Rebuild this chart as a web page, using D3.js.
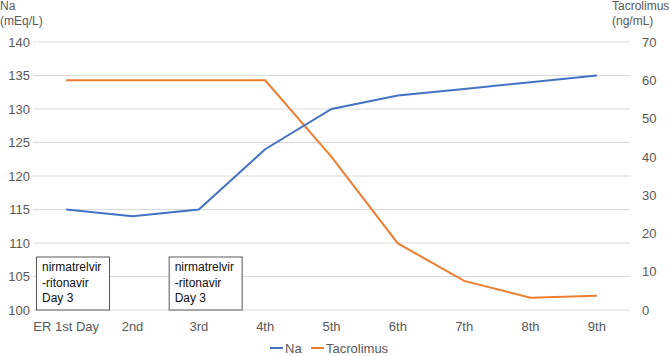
<!DOCTYPE html>
<html>
<head>
<meta charset="utf-8">
<script src="https://cdn.jsdelivr.net/npm/d3@7"></script>
<style>
  body { margin: 0; background: #fff; }
  text { font-family: "Liberation Sans", Arial, sans-serif; }
</style>
</head>
<body>
<div id="chart"></div>
<script>
// Chart data
const days = ["ER 1st Day", "2nd", "3rd", "4th", "5th", "6th", "7th", "8th", "9th"];
const naValues = [115, 114, 115, 124, 130, 132, 133, 134, 135];
const tacValues = [60, 60, 60, 60, 40, 17.4, 7.6, 3.2, 3.7];
const naTicks = [100, 105, 110, 115, 120, 125, 130, 135, 140];
const tacTicks = [0, 10, 20, 30, 40, 50, 60, 70];
const notes = [
  { day: "ER 1st Day", lines: ["nirmatrelvir", "-ritonavir", "Day 3"] },
  { day: "3rd", lines: ["nirmatrelvir", "-ritonavir", "Day 3"] }
];

const W = 669, H = 356;
const margin = { top: 42, right: 39, bottom: 46, left: 33 };
const width = W - margin.left - margin.right,
  height = H - margin.top - margin.bottom;

const svg = d3.select("#chart").append("svg")
  .attr("width", W).attr("height", H);

const g = svg.append("g")
  .attr("transform", `translate(${margin.left},${margin.top})`);

const x = d3.scaleBand().domain(days).range([0, width]);
const yL = d3.scaleLinear().domain([100, 140]).range([height, 0]);
const yR = d3.scaleLinear().domain([0, 70]).range([height, 0]);

const textColor = "#595959";

// gridlines
g.append("g")
  .selectAll("line")
  .data(naTicks)
  .join("line")
  .attr("x1", 0).attr("x2", width)
  .attr("y1", d => yL(d)).attr("y2", d => yL(d))
  .attr("stroke", "#d9d9d9").attr("stroke-width", 1);

// left axis
const left = g.append("g")
  .attr("transform", "translate(-3,0)")
  .call(d3.axisLeft(yL).tickValues(naTicks).tickSize(0).tickPadding(0));
left.select(".domain").remove();
left.selectAll("text").attr("fill", textColor).style("font-size", "13px");

// right axis
const right = g.append("g")
  .attr("transform", `translate(${width + 12},0)`)
  .call(d3.axisRight(yR).tickValues(tacTicks).tickSize(0).tickPadding(0));
right.select(".domain").remove();
right.selectAll("text").attr("fill", textColor).style("font-size", "13px");

// bottom axis
const bottom = g.append("g")
  .attr("transform", `translate(0,${height})`)
  .call(d3.axisBottom(x).tickSize(0).tickPadding(12));
bottom.select(".domain").remove();
bottom.selectAll("text").attr("fill", textColor).style("font-size", "13px");

// axis titles
svg.append("text").attr("x", 0).attr("y", 10).attr("fill", textColor)
  .style("font-size", "12px").text("Na");
svg.append("text").attr("x", 0).attr("y", 25).attr("fill", textColor)
  .style("font-size", "12px").text("(mEq/L)");
svg.append("text").attr("x", 612).attr("y", 10).attr("fill", textColor)
  .style("font-size", "12px").text("Tacrolimus");
svg.append("text").attr("x", 612).attr("y", 25).attr("fill", textColor)
  .style("font-size", "12px").text("(ng/mL)");

// lines
const cx = d => x(d) + x.bandwidth() / 2;

g.append("path")
  .datum(days.map((d, i) => [cx(d), yR(tacValues[i])]))
  .attr("fill", "none").attr("stroke", "#ED7D31").attr("stroke-width", 2)
  .attr("d", d3.line());

g.append("path")
  .datum(days.map((d, i) => [cx(d), yL(naValues[i])]))
  .attr("fill", "none").attr("stroke", "#4472C4").attr("stroke-width", 2)
  .attr("d", d3.line());

// annotation boxes
const boxW = 73, boxH = 53;
notes.forEach(n => {
  const bx = x(n.day) + 3.5;
  const by = height - boxH;
  const box = g.append("g").attr("transform", `translate(${bx},${by})`);
  box.append("rect")
    .attr("width", boxW).attr("height", boxH)
    .attr("fill", "#fff").attr("stroke", "#595959").attr("stroke-width", 1);
  box.selectAll("text")
    .data(n.lines)
    .join("text")
    .attr("x", 5.5)
    .attr("y", (d, i) => 14 + i * 15.5)
    .attr("fill", "#111")
    .style("font-size", "12px")
    .text(d => d);
});

// legend
const legend = svg.append("g").attr("transform", "translate(0,348)");
const items = [
  { name: "Na", color: "#4472C4", x: 270 },
  { name: "Tacrolimus", color: "#ED7D31", x: 311 }
];
items.forEach(it => {
  legend.append("line")
    .attr("x1", it.x).attr("x2", it.x + 13)
    .attr("y1", 0).attr("y2", 0)
    .attr("stroke", it.color).attr("stroke-width", 2);
  legend.append("text")
    .attr("x", it.x + 15).attr("y", 4.5)
    .attr("fill", textColor).style("font-size", "13px")
    .text(it.name);
});
</script>
</body>
</html>
